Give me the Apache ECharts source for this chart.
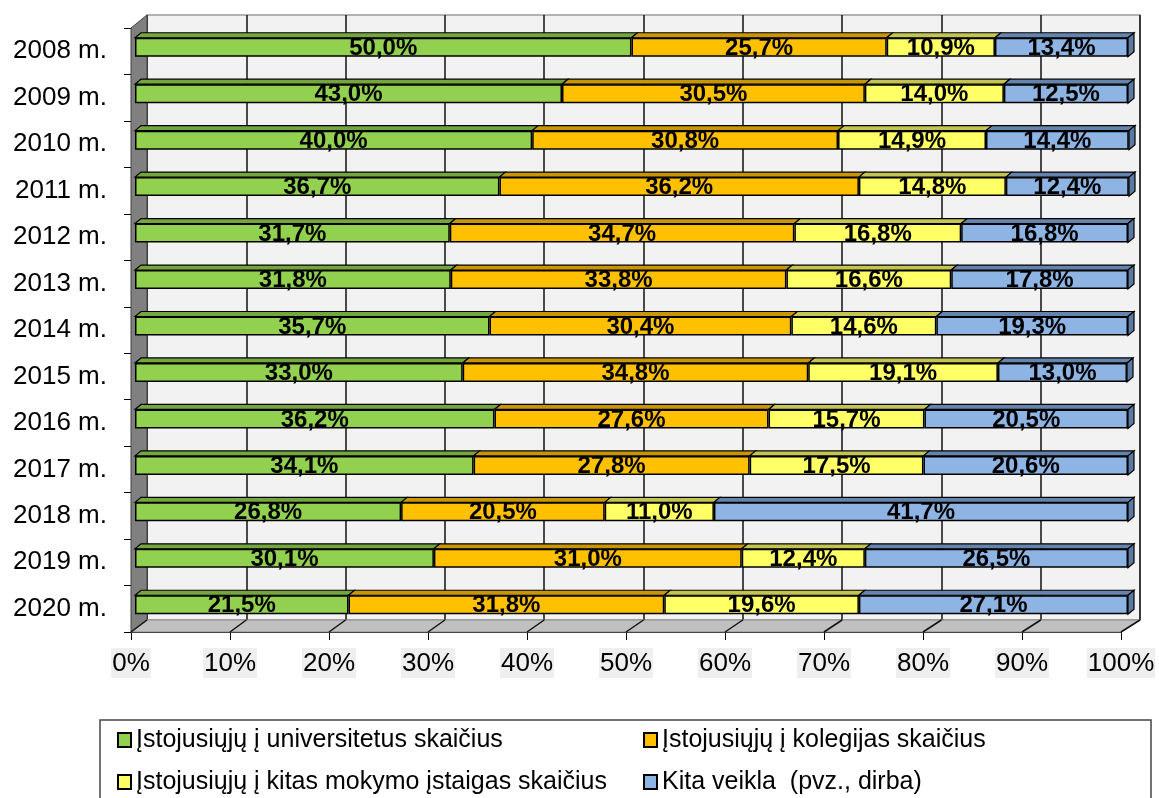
<!DOCTYPE html>
<html>
<head>
<meta charset="utf-8">
<script src="https://cdn.jsdelivr.net/npm/echarts@6/dist/echarts.min.js"></script>
<style>html,body{margin:0;padding:0;background:#fff;}#c{width:1159px;height:798px;}</style>
</head>
<body>
<div id="c"></div>
<script>
var categories = ['2008 m.','2009 m.','2010 m.','2011 m.','2012 m.','2013 m.','2014 m.','2015 m.','2016 m.','2017 m.','2018 m.','2019 m.','2020 m.'];
var universitetai = [50.0, 43.0, 40.0, 36.7, 31.7, 31.8, 35.7, 33.0, 36.2, 34.1, 26.8, 30.1, 21.5];
var kolegijos     = [25.7, 30.5, 30.8, 36.2, 34.7, 33.8, 30.4, 34.8, 27.6, 27.8, 20.5, 31.0, 31.8];
var kitosIstaigos = [10.9, 14.0, 14.9, 14.8, 16.8, 16.6, 14.6, 19.1, 15.7, 17.5, 11.0, 12.4, 19.6];
var kitaVeikla    = [13.4, 12.5, 14.4, 12.4, 16.8, 17.8, 19.3, 13.0, 20.5, 20.6, 41.7, 26.5, 27.1];
var seriesNames = ['Įstojusiųjų į universitetus skaičius','Įstojusiųjų į kolegijas skaičius','Įstojusiųjų į kitas mokymo įstaigas skaičius','Kita veikla  (pvz., dirba)'];
var xTicks = [0,10,20,30,40,50,60,70,80,90,100];

var allValues = [universitetai, kolegijos, kitosIstaigos, kitaVeikla];
var frontColors = ['#92d050','#ffc000','#ffff66','#8db4e2'];
var topColors = ['#74a63e','#c99600','#c4c452','#6584ad'];
var FONT = '"Liberation Sans", Arial, sans-serif';
var DX = 6, DY = -5;

var chart = echarts.init(document.getElementById('c'), null, {renderer:'canvas'});

var series = [];
allValues.forEach(function(vals, si){
  series.push({
    name: seriesNames[si], type: 'bar', stack: 'all', xAxisIndex: 1, yAxisIndex: 1,
    barWidth: 19, data: vals, z: 3,
    itemStyle: {color: frontColors[si], borderColor: '#000', borderWidth: 1.5},
    label: {show: true, position: 'inside', offset: [0, 1], color: '#000', fontWeight: 'bold', fontSize: 24, fontFamily: FONT,
      formatter: function(p){ return p.value.toFixed(1).replace('.', ',') + '%'; }}
  });
});
// top faces (3D look), computed from the stacked values
allValues.forEach(function(vals, si){
  var data = vals.map(function(v, i){
    var start = 0;
    for (var k = 0; k < si; k++) start += allValues[k][i];
    return [start, start + v, i];
  });
  var isLast = si === allValues.length - 1;
  series.push({
    name: 'top' + si, type: 'custom', xAxisIndex: 1, yAxisIndex: 1, z: 3, silent: true,
    encode: {x: [0,1], y: 2},
    data: data,
    renderItem: function(params, api){
      var p0 = api.coord([api.value(0), api.value(2)]);
      var p1 = api.coord([api.value(1), api.value(2)]);
      var bw = 19;
      var yt = p0[1] - bw/2, yb = p0[1] + bw/2;
      var children = [{
        type: 'polygon',
        shape: {points: [[p0[0], yt], [p0[0]+DX, yt+DY], [p1[0]+DX, yt+DY], [p1[0], yt]]},
        style: {fill: topColors[si], stroke: '#000', lineWidth: 1.2}
      }];
      if (isLast) {
        children.push({
          type: 'polygon',
          shape: {points: [[p1[0], yt], [p1[0]+DX, yt+DY], [p1[0]+DX, yb+DY], [p1[0], yb]]},
          style: {fill: '#5a7aa3', stroke: '#000', lineWidth: 1.2}
        });
      }
      return {type: 'group', children: children};
    }
  });
});

var legendCommon = {orient: 'vertical', top: 725, height: 150, itemWidth: 13, itemHeight: 14, itemGap: 12, icon: 'rect',
  selectedMode: false, padding: 0,
  textStyle: {fontSize: 25, color: '#000', fontFamily: FONT, lineHeight: 30},
  itemStyle: {borderColor: '#000', borderWidth: 2}};

var option = {
  animation: false,
  backgroundColor: '#fff',
  grid: [
    {left: 147, right: 19, top: 15, bottom: 178, show: true, backgroundColor: '#f2f2f2', borderColor: '#9a9a9a', borderWidth: 1.5},
    {left: 135, right: 31, top: 24, bottom: 170},
    {left: 131, right: 38, top: 28, bottom: 166}
  ],
  xAxis: [
    {gridIndex: 0, type: 'value', min: 0, max: 100, interval: 10, axisLabel: {show: false}, axisLine: {show: false}, axisTick: {show: false},
      splitLine: {show: true, lineStyle: {color: '#111', width: 1.5}}},
    {gridIndex: 1, type: 'value', min: 0, max: 100, show: false},
    {gridIndex: 2, type: 'value', min: 0, max: 100, interval: 10, splitLine: {show: false},
      axisLine: {show: true, lineStyle: {color: '#000', width: 1}},
      axisTick: {show: true, length: 8, lineStyle: {color: '#000'}},
      axisLabel: {formatter: '{value}%', fontSize: 26, color: '#000', fontFamily: FONT, margin: 16,
        backgroundColor: '#efefef', padding: [1, 1, 0, 1], lineHeight: 29}}
  ],
  yAxis: [
    {gridIndex: 0, type: 'category', data: categories, inverse: true, show: false},
    {gridIndex: 1, type: 'category', data: categories, inverse: true, show: false},
    {gridIndex: 2, type: 'category', data: categories, inverse: true,
      axisLine: {show: true, lineStyle: {color: '#000', width: 1}},
      axisTick: {show: true, length: 7, lineStyle: {color: '#000'}},
      axisLabel: {fontSize: 26, color: '#000', fontFamily: FONT, margin: 24},
      splitLine: {show: false}}
  ],
  legend: [
    Object.assign({}, legendCommon, {left: 117, data: [seriesNames[0], seriesNames[2]]}),
    Object.assign({}, legendCommon, {left: 643, data: [seriesNames[1], seriesNames[3]]})
  ],
  series: series
};
chart.setOption(option);

// 3D walls and floor derived from the axes
function rectOf(gi){ return chart.getModel().getComponent('grid', gi).coordinateSystem.getRect(); }
var f = rectOf(2), b = rectOf(0);
var fB = f.y + f.height, bB = b.y + b.height;
var graphics = [
  {type: 'polygon', z: 1, shape: {points: [[f.x, f.y], [b.x, b.y], [b.x, bB], [f.x, fB]]},
    style: {fill: '#808080', stroke: '#404040', lineWidth: 1}},
  {type: 'polygon', z: 1, shape: {points: [[f.x, fB], [b.x, bB], [b.x + b.width, bB], [f.x + f.width, fB]]},
    style: {fill: '#c0c0c0', stroke: '#8a8a8a', lineWidth: 1}}
];
xTicks.forEach(function(v){
  var xf = chart.convertToPixel({xAxisIndex: 2}, v);
  var xb = chart.convertToPixel({xAxisIndex: 0}, v);
  graphics.push({type: 'line', z: 1, shape: {x1: xf, y1: fB, x2: xb, y2: bB}, style: {stroke: '#111', lineWidth: 1.5}});
});
graphics.push({type: 'rect', z: 0, shape: {x: 100, y: 720, width: 1051, height: 100},
  style: {fill: 'none', stroke: '#444', lineWidth: 1.5}});
chart.setOption({graphic: graphics});
</script>
</body>
</html>
